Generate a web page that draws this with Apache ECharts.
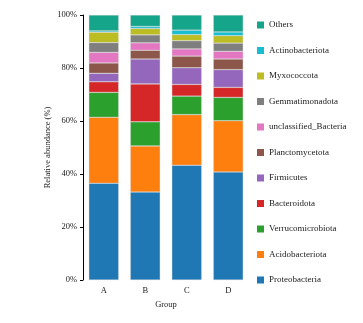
<!DOCTYPE html>
<html>
<head>
<meta charset="utf-8">
<script src="https://cdn.jsdelivr.net/npm/echarts@6/dist/echarts.min.js"></script>
<style>html,body{margin:0;padding:0;background:#fff}#c{width:363px;height:323px}</style>
</head>
<body>
<div id="c"></div>
<script>
const groups = ['A', 'B', 'C', 'D'];
const seriesNames = ['Proteobacteria', 'Acidobacteriota', 'Verrucomicrobiota', 'Bacteroidota', 'Firmicutes', 'Planctomycetota', 'unclassified_Bacteria', 'Gemmatimonadota', 'Myxococcota', 'Actinobacteriota', 'Others'];
const Proteobacteria = [36.5, 33.2, 43.3, 40.8];
const Acidobacteriota = [24.9, 17.4, 19.1, 19.3];
const Verrucomicrobiota = [9.4, 9.1, 7.0, 8.8];
const Bacteroidota = [4.0, 14.3, 4.4, 3.8];
const Firmicutes = [3.2, 9.4, 6.3, 6.7];
const Planctomycetota = [3.9, 3.3, 4.4, 4.0];
const unclassified_Bacteria = [4.0, 2.8, 2.7, 2.9];
const Gemmatimonadota = [3.7, 3.0, 3.1, 3.1];
const Myxococcota = [3.9, 2.4, 2.3, 2.8];
const Actinobacteriota = [0.5, 0.8, 1.7, 1.4];
const Others = [6.0, 4.3, 5.7, 6.4];
const yTicks = ['0%', '20%', '40%', '60%', '80%', '100%'];

const values = [Proteobacteria, Acidobacteriota, Verrucomicrobiota, Bacteroidota, Firmicutes, Planctomycetota, unclassified_Bacteria, Gemmatimonadota, Myxococcota, Actinobacteriota, Others];
const colors = ['#1f77b4', '#ff7f0e', '#2ca02c', '#d62728', '#9467bd', '#8c564b', '#e377c2', '#7f7f7f', '#bcbd22', '#17becf', '#14a58a'];
const font = 'Liberation Serif';

const chart = echarts.init(document.getElementById('c'), null, {renderer: 'canvas'});
chart.setOption({
  animation: false,
  color: colors,
  grid: {left: 83, top: 15, width: 166, bottom: 43},
  legend: {
    orient: 'vertical', left: 252, top: 15,
    data: seriesNames.slice().reverse(),
    itemWidth: 7, itemHeight: 7, itemGap: 15.5,
    icon: 'rect',
    itemStyle: {borderWidth: 0},
    textStyle: {fontFamily: font, fontSize: 9, color: '#222', lineHeight: 10}
  },
  xAxis: {
    type: 'category', data: groups,
    name: 'Group', nameLocation: 'middle', nameGap: 17,
    nameTextStyle: {fontFamily: font, fontSize: 8.5, color: '#222'},
    axisLine: {show: false}, axisTick: {show: false},
    axisLabel: {fontFamily: font, fontSize: 8.5, color: '#222', margin: 6}
  },
  yAxis: {
    type: 'value', min: 0, max: 100, interval: 20,
    name: 'Relative abundance (%)', nameLocation: 'middle', nameGap: 31,
    nameTextStyle: {fontFamily: font, fontSize: 8.5, color: '#222'},
    axisLine: {show: true, lineStyle: {color: '#000', width: 1}},
    axisTick: {show: true, length: 3, lineStyle: {color: '#000'}},
    splitLine: {show: false},
    axisLabel: {fontFamily: font, fontSize: 8.5, color: '#222', margin: 6,
      formatter: v => yTicks[Math.round(v / 20)]}
  },
  series: seriesNames.map((n, i) => ({
    name: n, type: 'bar', stack: 'total', data: values[i],
    barCategoryGap: '28%',
    itemStyle: {borderColor: 'rgba(210,210,210,0.7)', borderWidth: 0.5}
  }))
});
</script>
</body>
</html>
